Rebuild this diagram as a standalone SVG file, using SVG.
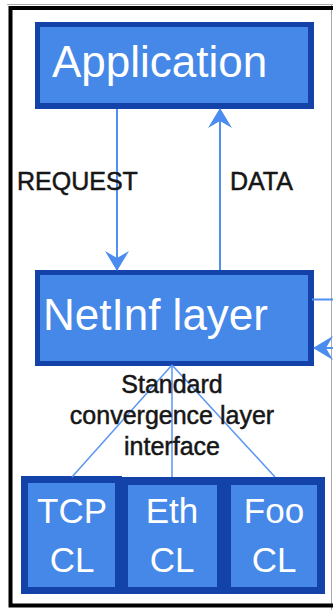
<svg xmlns="http://www.w3.org/2000/svg" width="333" height="610" viewBox="0 0 333 610">
<style>
.outer{fill:#1343a8}
.inner{fill:#4588e8}
.wt{fill:#ffffff;font-family:"Liberation Sans",Arial,sans-serif}
.bt{fill:#161616;stroke:#161616;stroke-width:0.5;font-family:"Liberation Sans",Arial,sans-serif;font-size:25px}
.ln{stroke:#5090f0;stroke-width:2;fill:none}
.fan{stroke:#5a96f2;stroke-width:1.5;fill:none}
</style>
<defs>
<marker id="ah" viewBox="0 0 20 24" refX="19" refY="12" markerWidth="20" markerHeight="24" markerUnits="userSpaceOnUse" orient="auto">
<path d="M0,0 L20,12 L0,24 L7,12 Z" fill="#4a8cf0"/>
</marker>
</defs>
<rect x="0" y="0" width="333" height="610" fill="#ffffff"/>
<line x1="7" y1="4.5" x2="333" y2="4.5" stroke="#aaaaaa" stroke-width="1"/>
<line x1="331.5" y1="4" x2="331.5" y2="610" stroke="#aaaaaa" stroke-width="1"/>
<path d="M333,8 H10.5 V605.5 H333" stroke="#000000" stroke-width="4" fill="none"/>

<g id="application">
<rect class="outer" x="35" y="22" width="279" height="87"/>
<rect class="inner" x="40" y="27" width="268" height="76"/>
<text class="wt" x="52" y="77" font-size="44">Application</text>
</g>

<g id="netinf">
<rect class="outer" x="35" y="270" width="279" height="96"/>
<rect class="inner" x="40" y="275" width="268" height="86"/>
<text class="wt" x="43" y="330" font-size="44">NetInf layer</text>
</g>

<g id="cl">
<rect class="outer" x="21" y="477" width="304" height="117"/>
<rect class="outer" x="21" y="476" width="101" height="4"/>
</g>
<g id="tcp">
<rect class="inner" x="28" y="483" width="87" height="104"/>
<text class="wt" x="72" y="523" font-size="35" text-anchor="middle">TCP</text>
<text class="wt" x="72" y="572" font-size="35" text-anchor="middle">CL</text>
</g>
<g id="eth">
<rect class="inner" x="128" y="485" width="89" height="102"/>
<text class="wt" x="172" y="523" font-size="35" text-anchor="middle">Eth</text>
<text class="wt" x="172" y="572" font-size="35" text-anchor="middle">CL</text>
</g>
<g id="foo">
<rect class="inner" x="231" y="485" width="86" height="102"/>
<text class="wt" x="274" y="523" font-size="35" text-anchor="middle">Foo</text>
<text class="wt" x="274" y="572" font-size="35" text-anchor="middle">CL</text>
</g>

<g id="connectors">
<line class="ln" x1="117" y1="109" x2="117" y2="270" marker-end="url(#ah)"/>
<line class="ln" x1="220" y1="270" x2="220" y2="109" marker-end="url(#ah)"/>
<line class="fan" x1="172" y1="365" x2="72" y2="477"/>
<line class="fan" x1="172" y1="365" x2="172" y2="477"/>
<line class="fan" x1="172" y1="365" x2="275" y2="477"/>
<line class="ln" x1="312" y1="299.5" x2="333" y2="299.5" stroke-width="1.5"/>
<line class="ln" x1="340" y1="348" x2="314" y2="348" marker-end="url(#ah)"/>
</g>

<g id="labels">
<text class="bt" x="17" y="190">REQUEST</text>
<text class="bt" x="230" y="190">DATA</text>
<text class="bt" x="172" y="393" text-anchor="middle">Standard</text>
<text class="bt" x="172" y="424" text-anchor="middle">convergence layer</text>
<text class="bt" x="172" y="455" text-anchor="middle">interface</text>
</g>
</svg>
